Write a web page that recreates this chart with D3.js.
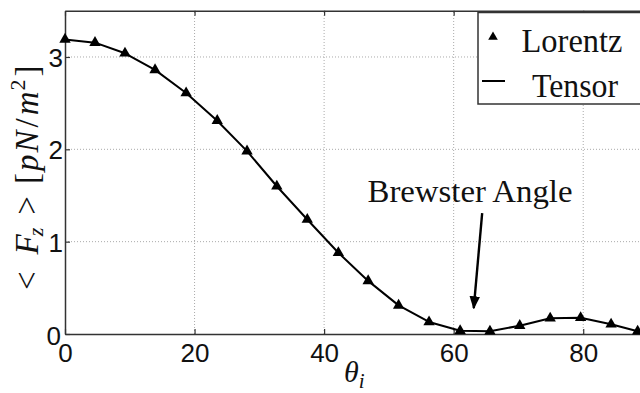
<!DOCTYPE html>
<html>
<head>
<meta charset="utf-8">
<script src="https://cdn.jsdelivr.net/npm/d3@7"></script>
<style>
  html, body { margin: 0; padding: 0; background: #fff; }
  svg { display: block; }
</style>
</head>
<body>
<svg id="chart" width="640" height="393"></svg>
<script>
// Incidence angle (degrees) and mean axial force <F_z> in pN/m^2
const angles = [0, 4.63, 9.26, 13.9, 18.7, 23.5, 28.1, 32.7, 37.4, 42.2, 46.8, 51.5, 56.2, 61.0, 65.6, 70.2, 74.9, 79.6, 84.3, 88.4];
const lorentz = [3.19, 3.155, 3.04, 2.86, 2.61, 2.31, 1.98, 1.60, 1.24, 0.88, 0.575, 0.31, 0.13, 0.035, 0.03, 0.09, 0.17, 0.175, 0.105, 0.03];
const tensor = [3.19, 3.155, 3.04, 2.86, 2.61, 2.31, 1.98, 1.60, 1.24, 0.88, 0.575, 0.31, 0.13, 0.035, 0.03, 0.09, 0.17, 0.175, 0.105, 0.03];
const xTicks = [0, 20, 40, 60, 80];
const yTicks = [0, 1, 2, 3];
const legendLabels = ["Lorentz", "Tensor"];
const note = { text: "Brewster Angle", tx: 46.7, ty: 1.43, x0: 64.4, y0: 1.31, x1: 63.1, y1: 0.28 };

const svg = d3.select("#chart");
const x = d3.scaleLinear().domain([0, 90]).range([65, 648]);
const y = d3.scaleLinear().domain([0, 3.5]).range([334, 10.8]);

const serif = "'Liberation Serif', 'DejaVu Serif', serif";
const sans = "'Liberation Sans', Arial, sans-serif";
const axisColor = "#333";

// Dotted grid
const grid = svg.append("g");
grid.selectAll("line.vx").data(xTicks.filter(d => d > 0)).join("line")
  .attr("x1", d => x(d)).attr("x2", d => x(d))
  .attr("y1", y(0)).attr("y2", y(3.5))
  .attr("stroke", "#aaa").attr("stroke-width", 1).attr("stroke-dasharray", "1,2");
grid.selectAll("line.hy").data(yTicks.filter(d => d > 0)).join("line")
  .attr("x1", x(0)).attr("x2", x(90))
  .attr("y1", d => y(d)).attr("y2", d => y(d))
  .attr("stroke", "#aaa").attr("stroke-width", 1).attr("stroke-dasharray", "1,2");

// Axes with inward ticks on all four sides
const axBottom = svg.append("g").attr("transform", `translate(0,${y(0)})`)
  .call(d3.axisBottom(x).tickValues(xTicks).tickSizeInner(-5).tickSizeOuter(0).tickFormat(d3.format("d")));
const axTop = svg.append("g").attr("transform", `translate(0,${y(3.5)})`)
  .call(d3.axisTop(x).tickValues(xTicks).tickSizeInner(-5).tickSizeOuter(0).tickFormat(""));
const axLeft = svg.append("g").attr("transform", `translate(${x(0)},0)`)
  .call(d3.axisLeft(y).tickValues(yTicks).tickSizeInner(-5).tickSizeOuter(0).tickFormat(d3.format("d")));
const axRight = svg.append("g").attr("transform", `translate(${x(90)},0)`)
  .call(d3.axisRight(y).tickValues(yTicks).tickSizeInner(-5).tickSizeOuter(0).tickFormat(""));

[axBottom, axTop, axLeft, axRight].forEach(g => {
  g.select(".domain").attr("stroke", axisColor).attr("stroke-width", 1.5);
  g.selectAll(".tick line").attr("stroke", axisColor).attr("stroke-width", 1.2);
  g.selectAll(".tick text").attr("font-family", sans).attr("font-size", 26).attr("fill", "#111");
});
axBottom.selectAll(".tick text").attr("dy", "0.71em").attr("y", 10);
axLeft.selectAll(".tick text").attr("dy", "0.36em").attr("x", -2);
axLeft.selectAll(".tick text").filter(d => d === 0).attr("dy", "0.42em").attr("x", -4);

// Tensor curve (solid line) and Lorentz samples (triangles)
const pts = angles.map((a, i) => ({ a, t: tensor[i], l: lorentz[i] }));
svg.append("path").datum(pts)
  .attr("fill", "none").attr("stroke", "#000").attr("stroke-width", 2)
  .attr("stroke-linejoin", "round")
  .attr("d", d3.line().x(d => x(d.a)).y(d => y(d.t)));

const tri = d3.symbol().type(d3.symbolTriangle).size(56);
svg.append("g").selectAll("path").data(pts).join("path")
  .attr("transform", d => `translate(${x(d.a)},${y(d.l)})`)
  .attr("d", tri).attr("fill", "#000");

// Annotation with arrow
svg.append("defs").append("marker")
  .attr("id", "head").attr("viewBox", "0 0 10 10")
  .attr("refX", 9).attr("refY", 5)
  .attr("markerWidth", 5.5).attr("markerHeight", 6.5)
  .attr("markerUnits", "strokeWidth").attr("orient", "auto")
  .append("path").attr("d", "M0,1 L10,5 L0,9 Z").attr("fill", "#000");

svg.append("line")
  .attr("x1", x(note.x0)).attr("y1", y(note.y0))
  .attr("x2", x(note.x1)).attr("y2", y(note.y1))
  .attr("stroke", "#000").attr("stroke-width", 2.4)
  .attr("marker-end", "url(#head)");

svg.append("text")
  .attr("x", x(note.tx)).attr("y", y(note.ty))
  .attr("font-family", serif).attr("font-size", 31)
  .attr("textLength", 205).attr("lengthAdjust", "spacingAndGlyphs")
  .attr("fill", "#111").text(note.text);

// Legend
const lg = svg.append("g");
lg.append("rect").attr("x", 478).attr("y", 12.5).attr("width", 180).attr("height", 91.5)
  .attr("fill", "#fff").attr("stroke", axisColor).attr("stroke-width", 1.5);
lg.append("path").attr("transform", "translate(493,37)")
  .attr("d", d3.symbol().type(d3.symbolTriangle).size(40)).attr("fill", "#000");
lg.append("line").attr("x1", 482).attr("x2", 505).attr("y1", 81).attr("y2", 81)
  .attr("stroke", "#000").attr("stroke-width", 2);
lg.append("text").attr("x", 521.5).attr("y", 51.7)
  .attr("font-family", serif).attr("font-size", 33)
  .attr("textLength", 101).attr("lengthAdjust", "spacingAndGlyphs")
  .attr("fill", "#111").text(legendLabels[0]);
lg.append("text").attr("x", 532).attr("y", 96.5)
  .attr("font-family", serif).attr("font-size", 33)
  .attr("textLength", 86).attr("lengthAdjust", "spacingAndGlyphs")
  .attr("fill", "#111").text(legendLabels[1]);

// Axis titles
const xt = svg.append("text").attr("x", 344).attr("y", 382)
  .attr("font-family", serif).attr("font-size", 30).attr("fill", "#111");
xt.append("tspan").attr("font-style", "italic").text("θ");
xt.append("tspan").attr("font-style", "italic").attr("font-size", 21).attr("dy", 6).text("i");

const yt = svg.append("text")
  .attr("transform", "translate(38,290) rotate(-90)")
  .attr("font-family", serif).attr("font-size", 33).attr("fill", "#111");
yt.append("tspan").text("<");
yt.append("tspan").attr("dx", 17).attr("font-style", "italic").text("F");
yt.append("tspan").attr("dy", 5).attr("dx", -2).attr("font-size", 22).attr("font-style", "italic").text("z");
yt.append("tspan").attr("dy", -5).attr("dx", 13).text(">");
yt.append("tspan").attr("dx", 12).text("[");
yt.append("tspan").attr("dx", 2).attr("font-style", "italic").text("p");
yt.append("tspan").attr("dx", 2).attr("font-style", "italic").text("N");
yt.append("tspan").attr("dx", 3).text("/");
yt.append("tspan").attr("dx", 3).attr("font-style", "italic").text("m");
yt.append("tspan").attr("dy", -13).attr("dx", 1).attr("font-size", 22).text("2");
yt.append("tspan").attr("dy", 13).attr("dx", 3).text("]");
</script>
</body>
</html>
